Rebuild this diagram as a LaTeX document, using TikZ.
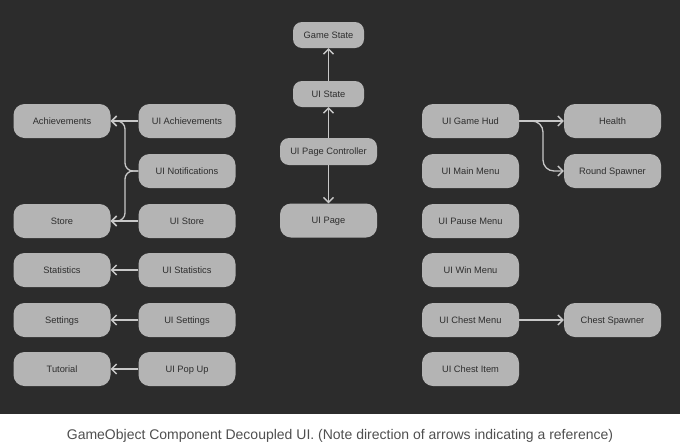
\documentclass[tikz,border=0pt]{standalone}
\usepackage{fontspec}
\setmainfont{Liberation Sans}
\usetikzlibrary{arrows.meta}

\definecolor{canvas}{HTML}{2C2C2C}
\definecolor{boxgray}{HTML}{B4B4B4}
\definecolor{boxtext}{HTML}{2E2E2E}
\definecolor{wire}{HTML}{C8C8C8}
\definecolor{captext}{HTML}{4F4F4F}

\begin{document}
\begin{tikzpicture}[x=1pt, y=-1pt,
    box/.style={fill=boxgray, text=boxtext, rounded corners=11pt, inner sep=0pt,
        minimum width=97pt, minimum height=34pt, text height=6.5pt, text depth=0pt,
        font=\fontsize{9.3}{10}\selectfont},
    slim/.style={box, minimum width=71pt, minimum height=26pt, rounded corners=9pt},
    mid/.style={box, minimum height=27pt, rounded corners=9pt},
    ref/.style={draw=wire, line width=1.3pt, -{Straight Barb[length=5pt,width=10pt]}}]
    \useasboundingbox (0,0) rectangle (680,445);
    \fill[canvas] (0,0) rectangle (680,414);

    % left side: referenced objects and the UI that points at them
    \node[box] (achievements) at (62,121) {Achievements};
    \node[box] (store) at (62,221) {Store};
    \node[box] (statistics) at (62,270) {Statistics};
    \node[box] (settings) at (62,320) {Settings};
    \node[box] (tutorial) at (62,369) {Tutorial};
    \node[box] (uiachievements) at (187,121) {UI Achievements};
    \node[box] (uinotifications) at (187,171) {UI Notifications};
    \node[box] (uistore) at (187,221) {UI Store};
    \node[box] (uistatistics) at (187,270) {UI Statistics};
    \node[box] (uisettings) at (187,320) {UI Settings};
    \node[box] (uipopup) at (187,369) {UI Pop Up};

    % centre column
    \node[slim] (gamestate) at (328.5,35) {Game State};
    \node[slim] (uistate) at (328.5,94) {UI State};
    \node[mid] (uipagecontroller) at (328.5,151.5) {UI Page Controller};
    \node[box] (uipage) at (328.5,220.5) {UI Page};

    % right side
    \node[box] (uigamehud) at (470.5,121) {UI Game Hud};
    \node[box] (uimainmenu) at (470.5,171) {UI Main Menu};
    \node[box] (uipausemenu) at (470.5,221) {UI Pause Menu};
    \node[box] (uiwinmenu) at (470.5,270) {UI Win Menu};
    \node[box] (uichestmenu) at (470.5,320) {UI Chest Menu};
    \node[box] (uichestitem) at (470.5,369) {UI Chest Item};
    \node[box] (health) at (612.5,121) {Health};
    \node[box] (roundspawner) at (612.5,171) {Round Spawner};
    \node[box] (chestspawner) at (612.5,320) {Chest Spawner};

    % arrows point at the object being referenced
    \draw[ref] (uiachievements) -- (achievements);
    \draw[ref] (uistore) -- (store);
    \draw[ref] (uistatistics) -- (statistics);
    \draw[ref] (uisettings) -- (settings);
    \draw[ref] (uipopup) -- (tutorial);
    \draw[ref, rounded corners=8pt] (uinotifications.west) -| (125,121) -- (achievements.east);
    \draw[ref, rounded corners=8pt] (uinotifications.west) -| (125,221) -- (store.east);

    \draw[ref] (uistate) -- (gamestate);
    \draw[ref] (uipagecontroller) -- (uistate);
    \draw[ref] (uipagecontroller) -- (uipage);

    \draw[ref] (uigamehud) -- (health);
    \draw[ref, rounded corners=11pt] (uigamehud.east) -| (543,171) -- (roundspawner.west);
    \draw[ref] (uichestmenu) -- (chestspawner);

    \node[text=captext, font=\fontsize{14}{16}\selectfont] (caption) at (340,436)
        {GameObject Component Decoupled UI. (Note direction of arrows indicating a reference)};
\end{tikzpicture}
\end{document}
